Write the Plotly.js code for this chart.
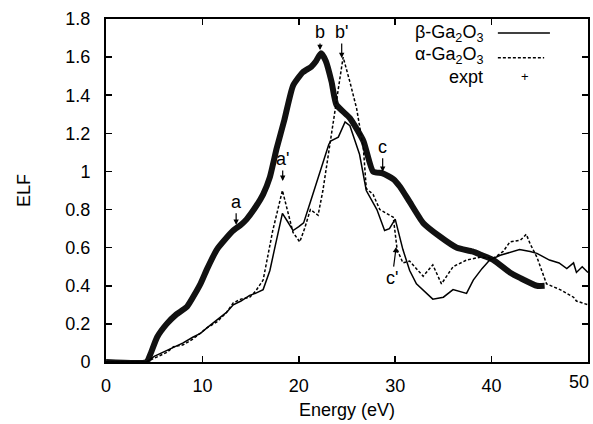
<!DOCTYPE html>
<html>
<head>
<meta charset="utf-8">
<script src="https://cdn.plot.ly/plotly-3.0.1.min.js"></script>
<style>html,body{margin:0;padding:0;background:#fff;}#chart{width:593px;height:424px;}</style>
</head>
<body>
<div id="chart"></div>
<script>
// Energy (eV) and ELF values
var energyBeta = [0, 4.2, 5.0, 6.3, 7.0, 8.0, 9.0, 9.8, 10.5, 11.5, 12.5, 13.2, 14.0, 14.9, 15.5, 16.3, 17.0, 17.6, 18.3, 18.8, 19.4, 20.0, 20.5, 21.2, 22.0, 23.1, 23.3, 24.1, 24.8, 25.3, 26.3, 27.0, 28.1, 28.9, 29.4, 30.0, 30.8, 31.5, 32.2, 33.2, 33.9, 35.0, 36.0, 37.4, 38.1, 39.0, 39.8, 40.9, 42.0, 42.9, 44.0, 44.7, 46.0, 47.0, 47.8, 48.5, 48.8, 49.4, 50.0];
var elfBeta = [0, 0, 0.03, 0.06, 0.08, 0.10, 0.13, 0.15, 0.18, 0.22, 0.26, 0.30, 0.32, 0.35, 0.36, 0.38, 0.48, 0.62, 0.78, 0.74, 0.69, 0.71, 0.73, 0.84, 0.97, 1.14, 1.16, 1.18, 1.26, 1.24, 1.09, 0.90, 0.80, 0.69, 0.70, 0.75, 0.59, 0.48, 0.41, 0.36, 0.33, 0.34, 0.38, 0.36, 0.43, 0.49, 0.535, 0.56, 0.575, 0.59, 0.58, 0.57, 0.535, 0.52, 0.49, 0.52, 0.47, 0.50, 0.47];

var energyAlpha = [0, 4.2, 5.0, 6.3, 7.0, 8.0, 9.0, 9.8, 10.5, 11.5, 12.5, 13.2, 14.0, 14.9, 15.5, 16.3, 17.3, 18.3, 18.8, 19.4, 20.1, 20.6, 21.2, 22.0, 22.5, 23.2, 23.8, 24.6, 25.3, 26.0, 26.7, 27.0, 27.7, 28.4, 29.8, 30.2, 30.8, 31.5, 32.2, 32.9, 33.9, 34.8, 36.0, 37.4, 38.8, 40.2, 41.2, 41.9, 43.0, 43.6, 44.0, 44.7, 45.7, 47.1, 48.5, 48.8, 50.0];
var elfAlpha = [0, 0, 0.02, 0.05, 0.08, 0.09, 0.12, 0.15, 0.18, 0.21, 0.26, 0.31, 0.33, 0.34, 0.37, 0.43, 0.69, 0.90, 0.80, 0.68, 0.63, 0.70, 0.80, 0.77, 0.90, 1.13, 1.33, 1.60, 1.47, 1.33, 1.12, 0.91, 0.88, 0.80, 0.76, 0.59, 0.52, 0.53, 0.49, 0.45, 0.51, 0.41, 0.50, 0.535, 0.55, 0.545, 0.58, 0.63, 0.64, 0.67, 0.62, 0.55, 0.41, 0.38, 0.34, 0.32, 0.30];

var energyExpt = [0, 4.2, 4.6, 5.3, 6.3, 7.3, 8.4, 9.8, 10.5, 11.5, 12.3, 13.2, 14.0, 14.6, 15.6, 16.3, 17.0, 17.7, 18.5, 19.4, 20.4, 21.3, 21.8, 22.3, 22.8, 23.4, 23.9, 25.3, 26.7, 27.7, 28.7, 29.8, 30.5, 31.5, 32.9, 34.6, 36.4, 38.0, 39.0, 40.2, 41.9, 43.0, 44.7, 45.5];
var elfExpt = [0, 0, 0.04, 0.13, 0.20, 0.25, 0.29, 0.41, 0.49, 0.59, 0.64, 0.69, 0.72, 0.75, 0.82, 0.88, 0.97, 1.12, 1.27, 1.45, 1.52, 1.55, 1.58, 1.62, 1.58, 1.47, 1.35, 1.28, 1.16, 1.00, 0.99, 0.96, 0.92, 0.84, 0.73, 0.66, 0.60, 0.58, 0.56, 0.535, 0.47, 0.44, 0.40, 0.40];

var seriesNames = ['β-Ga<sub>2</sub>O<sub>3</sub>', 'α-Ga<sub>2</sub>O<sub>3</sub>', 'expt'];

// peak labels: label, energy, ELF at arrow tip
var peakLabels = ['a', "a'", 'b', "b'", 'c', "c'"];
var peakEnergy = [13.5, 18.33, 22.2, 24.45, 28.7, 30.1];
var peakElf = [0.72, 0.95, 1.637, 1.595, 0.998, 0.603];

var xTicks = [0, 10, 20, 30, 40, 50];
var xTickText = ['0', '10', '20', '30', '40', ''];
var lastXTickText = '50';
var yTicks = [0, 0.2, 0.4, 0.6, 0.8, 1, 1.2, 1.4, 1.6, 1.8];
var yTickText = ['0', '0.2', '0.4', '0.6', '0.8', '1', '1.2', '1.4', '1.6', '1.8'];

var FONT = 'Liberation Sans, Arial, Helvetica, sans-serif';

var traces = [
  {x: energyExpt, y: elfExpt, name: seriesNames[2], mode: 'lines',
   line: {color: '#111', width: 6, shape: 'spline', smoothing: 0.5}, showlegend: false},
  {x: energyBeta, y: elfBeta, name: seriesNames[0], mode: 'lines',
   line: {color: '#000', width: 1.5}, showlegend: false},
  {x: energyAlpha, y: elfAlpha, name: seriesNames[1], mode: 'lines',
   line: {color: '#000', width: 1.5, dash: '3px,2px'}, showlegend: false}
];

// offsets of label text relative to arrow tip (pixels)
var offX = [0, 0, 0, 0, 0, -4];
var offY = [-23, -22, -18, -26, -25, 31];

var annotations = peakLabels.map(function (t, i) {
  return {x: peakEnergy[i], y: peakElf[i], xref: 'x', yref: 'y', text: t,
    showarrow: true, ax: offX[i], ay: offY[i], arrowhead: 2, arrowsize: 0.9,
    arrowwidth: 1.2, arrowcolor: '#000', standoff: 0,
    font: {family: FONT, size: 18, color: '#000'}};
});

// last x tick label kept inside the page (as gnuplot draws it)
annotations.push({xref: 'x', yref: 'y', x: xTicks[xTicks.length - 1], y: 0,
  text: lastXTickText, showarrow: false, xanchor: 'right', yanchor: 'top',
  xshift: 3, yshift: -8, font: {family: FONT, size: 18, color: '#000'}});

// custom legend (text right-aligned, sample to the right, gnuplot style)
var legY = [0.959, 0.893, 0.831];
seriesNames.forEach(function (n, i) {
  annotations.push({xref: 'paper', yref: 'paper', x: 0.786, y: legY[i], text: n,
    showarrow: false, xanchor: 'right', yanchor: 'middle',
    font: {family: FONT, size: 18, color: '#000'}});
});
annotations.push({xref: 'paper', yref: 'paper', x: 0.869, y: legY[2], text: '+',
  showarrow: false, xanchor: 'center', yanchor: 'middle',
  font: {family: FONT, size: 13, color: '#000'}});

var shapes = [
  {type: 'line', xref: 'paper', yref: 'paper', x0: 0.813, x1: 0.921, y0: legY[0], y1: legY[0],
   line: {color: '#000', width: 1.5}},
  {type: 'line', xref: 'paper', yref: 'paper', x0: 0.813, x1: 0.909, y0: legY[1] - 0.006, y1: legY[1] - 0.006,
   line: {color: '#000', width: 1.5, dash: '3px,2px'}}
];

var axisCommon = {
  showline: true, linecolor: '#000', linewidth: 2, mirror: 'ticks',
  ticks: 'inside', ticklen: 6, tickwidth: 1.5, tickcolor: '#000',
  showgrid: false, zeroline: false,
  tickfont: {family: FONT, size: 18, color: '#000'}
};

var layout = {
  width: 593, height: 424,
  margin: {l: 106, r: 5, t: 19, b: 62},
  paper_bgcolor: '#fff', plot_bgcolor: '#fff',
  showlegend: false,
  xaxis: Object.assign({}, axisCommon, {
    range: [0, 50], tickmode: 'array', tickvals: xTicks, ticktext: xTickText,
    ticklabelstandoff: 6,
    title: {text: 'Energy (eV)', font: {family: FONT, size: 18, color: '#000'}, standoff: 9}
  }),
  yaxis: Object.assign({}, axisCommon, {
    range: [0, 1.8], tickmode: 'array', tickvals: yTicks, ticktext: yTickText,
    ticklabelstandoff: 10,
    title: {text: 'ELF', font: {family: FONT, size: 18, color: '#000'}, standoff: 30}
  }),
  annotations: annotations,
  shapes: shapes
};

Plotly.newPlot('chart', traces, layout, {displayModeBar: false, staticPlot: true});
</script>
</body>
</html>
